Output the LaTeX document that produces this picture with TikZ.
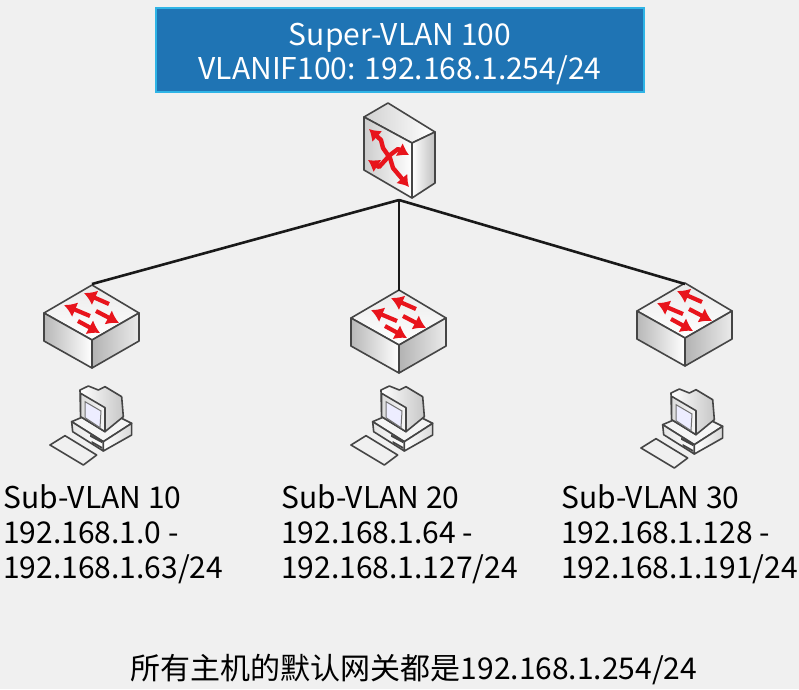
\documentclass[tikz,border=0pt]{standalone}
\usepackage{fontspec}
\setmainfont{Noto Sans CJK SC}
\usepackage{tikz}
\usetikzlibrary{positioning,arrows.meta}

\definecolor{pagegrey}{HTML}{F0F0F0}
\definecolor{titleblue}{HTML}{1F74B4}
\definecolor{titleedge}{HTML}{2FB4E6}
\definecolor{iconline}{HTML}{454545}
\definecolor{arrowred}{HTML}{E8141C}

\begin{document}
\begin{tikzpicture}[
    x=1pt, y=-1pt,
    titlebox/.style={draw=titleedge, line width=1.2pt, fill=titleblue, text=white, align=center, minimum width=488pt, minimum height=84pt, inner sep=0pt, font=\fontsize{30}{34}\selectfont},
    sublabel/.style={anchor=north west, align=left, inner sep=0pt, font=\fontsize{30}{35}\selectfont},
    link/.style={line width=2.6pt, black!90},
    iconedge/.style={draw=iconline, line width=1.6pt, line join=round},
    redarrow/.style={draw=arrowred, line width=4.2pt, -{Latex[length=12pt,width=16pt]}},
    bothred/.style={draw=arrowred, line width=4.4pt, line join=round, {Latex[length=11pt,width=15pt]}-{Latex[length=11pt,width=15pt]}},
    % core switch, origin at its top corner
    corepic/.pic={
        \path [iconedge, left color=black!18, right color=white] (0,0) -- (47,29) -- (24,40) -- (-24,14) -- cycle;
        \path [iconedge, left color=black!20, right color=white] (-24,14) -- (24,40) -- (24,95) -- (-24,67) -- cycle;
        \path [iconedge, left color=white, right color=black!25] (24,40) -- (47,29) -- (47,80) -- (24,95) -- cycle;
        \draw [bothred] (-19,26) -- (-7,37) -- (-5,45) -- (2,55) -- (5,65) -- (21,84);
        \draw [bothred] (-20,57) -- (-9,64) -- (2,52) -- (10,46) -- (21,52);
    },
    % access switch, origin at its top corner
    accesspic/.pic={
        \path [iconedge, top color=black!8, bottom color=white] (0,0) -- (47,28) -- (0,55) -- (-48,28) -- cycle;
        \path [iconedge, left color=black!28, right color=white] (-48,28) -- (0,55) -- (0,83) -- (-48,56) -- cycle;
        \path [iconedge, left color=black!30, right color=black!8] (0,55) -- (47,28) -- (47,56) -- (0,83) -- cycle;
        \draw [redarrow] (17,19) -- (-8,8);
        \draw [redarrow] (-2,31) -- (-28,20);
        \draw [redarrow] (4,26) -- (27,38);
        \draw [redarrow] (-14,36) -- (8,48);
    },
    % host, drawn in the pixels of a crop three times larger
    hostpic/.pic={
        \begin{scope}[scale=1/3]
        \path [iconedge, fill=black!4] (95,140) -- (130,125) -- (245,130) -- (275,145) -- (190,200) -- cycle;
        \path [iconedge, left color=black!10, right color=white] (95,140) -- (190,200) -- (190,228) -- (98,170) -- cycle;
        \path [iconedge, left color=white, right color=black!15] (190,200) -- (275,145) -- (275,180) -- (190,228) -- cycle;
        \path [iconedge, left color=white, right color=black!22] (120,45) -- (145,33) -- (175,45) -- (195,35) -- (245,65) -- (250,125) -- (195,170) -- (122,125) -- cycle;
        \path [iconedge, left color=black!14, right color=black!3] (122,55) -- (195,98) -- (195,170) -- (122,125) -- cycle;
        \path [fill=blue!7, draw=black!55, line width=1pt] (135,80) -- (183,108) -- (180,158) -- (135,128) -- cycle;
        \path [fill=iconline] (150,178) -- (187,198) -- (187,205) -- (150,185) -- cycle;
        \path [fill=iconline] (155,198) -- (187,216) -- (187,222) -- (155,204) -- cycle;
        \path [iconedge, fill=black!6] (30,210) -- (75,182) -- (170,240) -- (130,270) -- cycle;
        \end{scope}
    }
]

\useasboundingbox [fill=pagegrey] (0,0) rectangle (799,689);

\node (super) [titlebox] at (400,50) {\rule{0pt}{30pt}Super-VLAN 100\\VLANIF100: 192.168.1.254/24};

\pic at (388,103) {corepic};
\pic at (92,285) {accesspic};
\pic at (399,290) {accesspic};
\pic at (685,283) {accesspic};

\pic at (40,375) {hostpic};
\pic at (341,375) {hostpic};
\pic at (631,378) {hostpic};

\coordinate (core) at (399,200);
\coordinate (sw10) at (92,284);
\coordinate (sw20) at (399,291);
\coordinate (sw30) at (685,284);

\draw [link] (core) -- (sw10);
\draw [link] (core) -- (sw20);
\draw [link] (core) -- (sw30);

\node (sub10) [sublabel] at (3,484) {Sub-VLAN 10\\192.168.1.0 -\\192.168.1.63/24};
\node (sub20) [sublabel] at (281,484) {Sub-VLAN 20\\192.168.1.64 -\\192.168.1.127/24};
\node (sub30) [sublabel] at (561,484) {Sub-VLAN 30\\192.168.1.128 -\\192.168.1.191/24};

\node (gateway) [font=\fontsize{30}{34}\selectfont, inner sep=0pt] at (414,670) {所有主机的默认网关都是192.168.1.254/24};

\end{tikzpicture}
\end{document}
